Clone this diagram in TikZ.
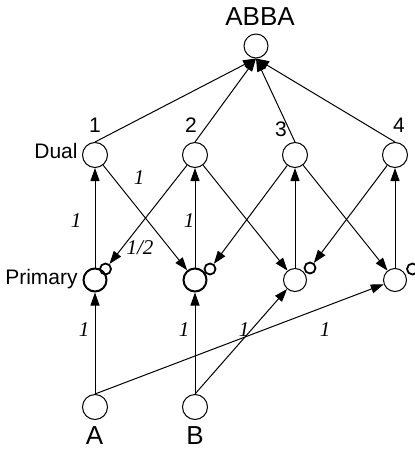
\documentclass[tikz,border=0pt]{standalone}
\usepackage{fontspec}
\setmainfont{Liberation Sans}
\newfontfamily\weightfont{Liberation Serif}
\usetikzlibrary{arrows.meta}

\tikzset{
	cell/.style={circle, draw, line width=0.5pt, inner sep=0pt, minimum size=12.5pt},
	prim/.style={cell, minimum size=11.5pt},
	strong/.style={line width=1pt},
	gate/.style={circle, draw, line width=0.9pt, inner sep=0pt, minimum size=5.5pt},
	link/.style={line width=0.5pt, -{Triangle[length=6.5pt,width=4.5pt]}},
	wt/.style={font=\weightfont\itshape\fontsize{10.5}{12}\selectfont, inner sep=0pt},
	lbl/.style={font=\fontsize{10.5}{12}\selectfont, inner sep=0pt},
	big/.style={font=\fontsize{13}{15}\selectfont, inner sep=0pt},
	idx/.style={font=\fontsize{10.5}{12}\selectfont, inner sep=0pt}
}

\begin{document}
\begin{tikzpicture}[x=0.5pt, y=-0.5pt]
	\useasboundingbox (0,0) rectangle (414,449);

	% output unit
	\node[cell, minimum size=12pt] (abba) at (256,46) {};
	\node[big, anchor=base] (abbalbl) at (260,26) {ABBA};

	% dual layer
	\node[cell] (d1) at (95,155) {};
	\node[cell] (d2) at (195,155) {};
	\node[cell] (d3) at (295,155) {};
	\node[cell] (d4) at (395,155) {};
	\node[idx, anchor=base] (n1) at (95,133) {1};
	\node[idx, anchor=base] (n2) at (191,133) {2};
	\node[idx, anchor=base] (n3) at (281,136.5) {3};
	\node[idx, anchor=base] (n4) at (399,133) {4};
	\node[lbl, anchor=base east] (duallbl) at (78,158.5) {Dual};

	% primary layer with side gates
	\node[prim, strong] (p1) at (95,280) {};
	\node[prim, strong] (p2) at (195,280) {};
	\node[prim] (p3) at (295,280) {};
	\node[prim] (p4) at (395,280) {};
	\node[gate] (s1) at (105.5,269) {};
	\node[gate] (s2) at (210,269) {};
	\node[gate] (s3) at (310,268) {};
	\node[gate] (s4) at (412.5,269) {};
	\node[lbl, anchor=base east] (primlbl) at (78,284) {Primary};

	% inputs
	\node[cell] (a) at (95,407) {};
	\node[cell] (b) at (195,407) {};
	\node[big, anchor=base] (albl) at (94.5,444) {A};
	\node[big, anchor=base] (blbl) at (195,444) {B};

	% dual -> output
	\draw[link] (d1.north) -- (abba.south);
	\draw[link] (d2.north) -- (abba.south);
	\draw[link] (d3.north) -- (abba.south);
	\draw[link] (d4.north) -- (abba.south);

	% primary -> dual
	\draw[link] (p1) -- (d1);
	\draw[link] (p2) -- (d2);
	\draw[link] (p3) -- (d3);
	\draw[link] (p4) -- (d4);

	% dual -> next primary and gates
	\draw[link] (d1) -- (p2);
	\draw[link] (d2) -- (p3);
	\draw[link] (d3) -- (p4);
	\draw[link] (d2) -- (s1);
	\draw[link] (d3) -- (s2);
	\draw[link] (d4) -- (s3);

	% inputs -> primary
	\draw[link] (a) -- (p1);
	\draw[link] (b) -- (p2);
	\draw[link] (b.north) -- (p3);
	\draw[link] (a.north) -- (p4);

	% weights
	\node[wt] (w1) at (76,221) {1};
	\node[wt] (w2) at (139,178) {1};
	\node[wt] (w3) at (140,248) {1/2};
	\node[wt] (w4) at (189,221) {1};
	\node[wt] (w5) at (84,330) {1};
	\node[wt] (w6) at (184,330) {1};
	\node[wt] (w7) at (244,330) {1};
	\node[wt] (w8) at (325,330) {1};
\end{tikzpicture}
\end{document}
